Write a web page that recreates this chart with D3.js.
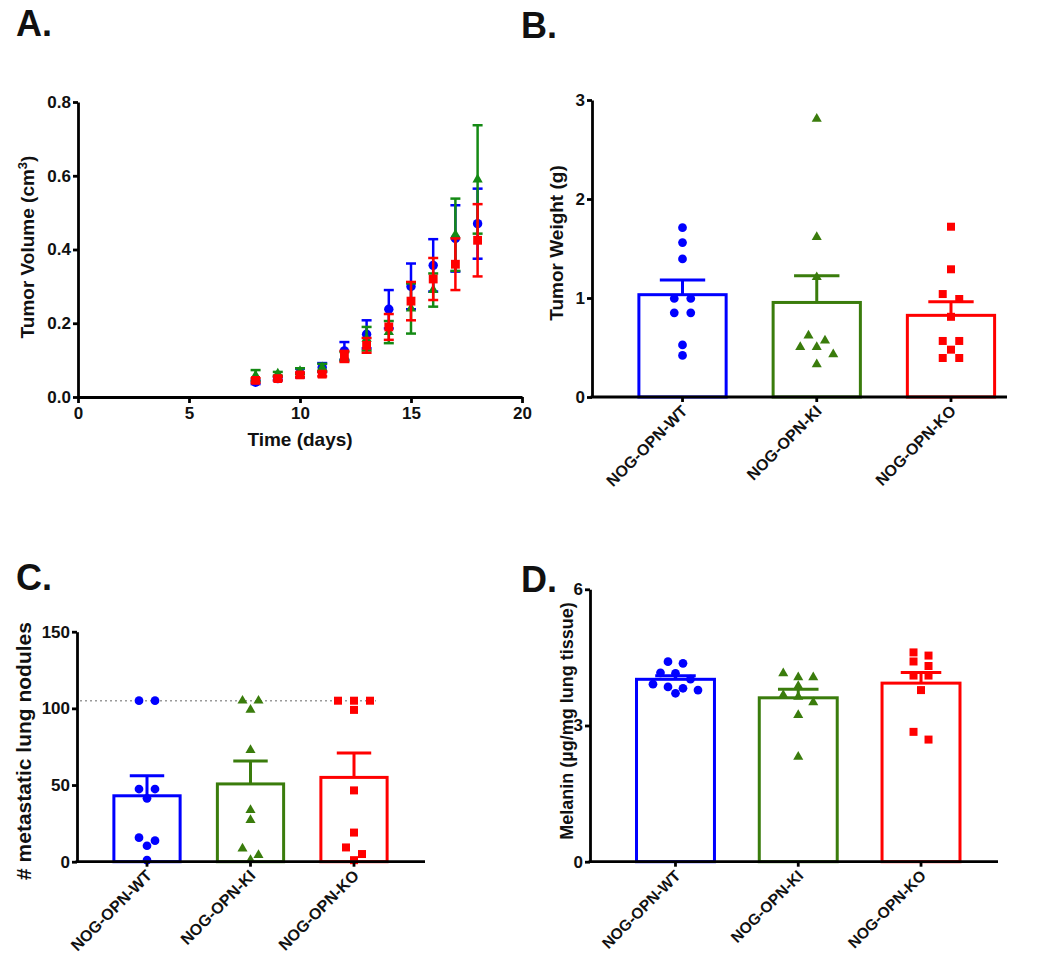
<!DOCTYPE html>
<html><head><meta charset="utf-8">
<script src="https://cdn.jsdelivr.net/npm/d3@7"></script>
<style>
body{margin:0;background:#fff}
text{font-family:"Liberation Sans",Arial,Helvetica,sans-serif;font-weight:bold;fill:#111}
</style>
</head><body>
<svg id="chart" width="1050" height="971"></svg>
<script>
// ---------- Panel A: tumor volume over time (mean ± SEM) ----------
const days = [8, 9, 10, 11, 12, 13, 14, 15, 16, 17, 18];
const wtMean = [0.040, 0.050, 0.065, 0.080, 0.125, 0.170, 0.238, 0.300, 0.357, 0.430, 0.470];
const wtSem  = [0.005, 0.005, 0.012, 0.012, 0.024, 0.038, 0.052, 0.062, 0.071, 0.090, 0.095];
const kiMean = [0.058, 0.063, 0.070, 0.080, 0.110, 0.158, 0.176, 0.240, 0.290, 0.440, 0.590];
const kiSem  = [0.015, 0.005, 0.008, 0.010, 0.012, 0.032, 0.030, 0.068, 0.045, 0.098, 0.147];
const koMean = [0.045, 0.050, 0.060, 0.062, 0.110, 0.140, 0.190, 0.260, 0.320, 0.360, 0.425];
const koSem  = [0.006, 0.005, 0.006, 0.006, 0.015, 0.020, 0.035, 0.052, 0.057, 0.070, 0.098];
const volTicks = [0, 0.2, 0.4, 0.6, 0.8];
const dayTicks = [0, 5, 10, 15, 20];

// ---------- Groups ----------
const groups = ["NOG-OPN-WT", "NOG-OPN-KI", "NOG-OPN-KO"];

// ---------- Panel B: tumor weight (g) ----------
const weightWT = [1.71, 1.56, 1.395, 0.995, 0.995, 0.85, 0.85, 0.526, 0.42];
const weightKI = [2.81, 1.615, 1.21, 0.62, 0.57, 0.505, 0.505, 0.43, 0.33];
const weightKO = [1.72, 1.29, 1.04, 0.99, 0.81, 0.566, 0.566, 0.478, 0.394, 0.394];
const weightTicks = [0, 1, 2, 3];

// ---------- Panel C: metastatic lung nodules ----------
const nodulesWT = [105, 105, 47.4, 47.4, 41.3, 15.7, 13.7, 10.4, 1];
const nodulesKI = [105, 105, 99, 72.8, 33.7, 27.2, 8.5, 4.3, 1];
const nodulesKO = [105, 105, 105, 99, 46.5, 19, 9.3, 5, 1];
const noduleTicks = [0, 50, 100, 150];
const noduleLimit = [105];

// ---------- Panel D: melanin ----------
const melaninWT = [4.405, 4.37, 4.16, 4.15, 4.02, 3.91, 3.85, 3.82, 3.78, 3.71];
const melaninKI = [4.15, 4.06, 4.06, 3.87, 3.67, 3.63, 3.51, 3.23, 2.31];
const melaninKO = [4.61, 4.54, 4.41, 4.31, 4.10, 4.10, 3.78, 2.86, 2.69];
const melaninTicks = [0, 3, 6];

// ---------- styles ----------
const BLUE = "#0000ff", RED = "#ff0000", GREEN_A = "#148a14", GREEN_B = "#3a7c0c";
const AXW = 2.8;
const svg = d3.select("#chart");

function styleAxis(g, fs) {
  g.select(".domain").attr("stroke", "#000").attr("stroke-width", AXW);
  g.selectAll(".tick line").attr("stroke", "#000").attr("stroke-width", AXW);
  g.selectAll(".tick text").attr("fill", "#111").style("font-size", fs + "px");
}

function panelLetter(txt, x, y) {
  svg.append("text").attr("x", x).attr("y", y).text(txt)
    .style("font-size", "36px").attr("fill", "#222");
}

function yTitle(x, y, fs, build) {
  const t = svg.append("text").attr("transform", `translate(${x},${y}) rotate(-90)`)
    .attr("text-anchor", "middle").style("font-size", fs + "px");
  build(t);
}

function marker(shape, size) {
  const type = shape === "circle" ? d3.symbolCircle : shape === "square" ? d3.symbolSquare : d3.symbolTriangle;
  return d3.symbol().type(type).size(size)();
}

// ================= Panel A =================
(function () {
  const x = d3.scaleLinear().domain([0, 20]).range([78, 522]);
  const y = d3.scaleLinear().domain([0, 0.8]).range([397, 102]);
  const gx = svg.append("g").attr("transform", `translate(0,${y(0)})`)
    .call(d3.axisBottom(x).tickValues(dayTicks).tickSize(6).tickSizeOuter(0).tickPadding(4).tickFormat(d3.format("d")));
  styleAxis(gx, 17);
  const gy = svg.append("g").attr("transform", `translate(${x(0)},0)`)
    .call(d3.axisLeft(y).tickValues(volTicks).tickSize(5).tickSizeOuter(0).tickPadding(2).tickFormat(d3.format(".1f")));
  styleAxis(gy, 17);

  const series = [
    { mean: wtMean, sem: wtSem, color: BLUE, shape: "circle", size: 70 },
    { mean: kiMean, sem: kiSem, color: GREEN_A, shape: "triangle", size: 46 },
    { mean: koMean, sem: koSem, color: RED, shape: "square", size: 78 }
  ];
  series.forEach(s => {
    const g = svg.append("g");
    days.forEach((d, i) => {
      const cx = x(d), y1 = y(s.mean[i] + s.sem[i]), y0 = y(s.mean[i] - s.sem[i]);
      g.append("line").attr("x1", cx).attr("x2", cx).attr("y1", y1).attr("y2", y0)
        .attr("stroke", s.color).attr("stroke-width", 2.5);
      [y1, y0].forEach(yy => g.append("line").attr("x1", cx - 5).attr("x2", cx + 5)
        .attr("y1", yy).attr("y2", yy).attr("stroke", s.color).attr("stroke-width", 2.5));
    });
    g.selectAll("path.m").data(days).join("path").attr("class", "m")
      .attr("d", marker(s.shape, s.size))
      .attr("transform", (d, i) => `translate(${x(d)},${y(s.mean[i])})`)
      .attr("fill", s.color);
  });

  svg.append("text").attr("x", 300).attr("y", 446).attr("text-anchor", "middle")
    .style("font-size", "19px").text("Time (days)");
  yTitle(34, 247, 19, t => {
    t.append("tspan").text("Tumor Volume (cm");
    t.append("tspan").attr("dy", -7).style("font-size", "13px").text("3");
    t.append("tspan").attr("dy", 7).text(")");
  });
  panelLetter("A.", 16, 36);
})();

// ================= Bar panels =================
function swarm(vals, y, spacing, thresh) {
  const pts = vals.map(v => ({ v, py: y(v) })).sort((a, b) => a.py - b.py);
  const rows = [];
  pts.forEach(p => {
    const r = rows[rows.length - 1];
    if (r && p.py - r[0].py < thresh) r.push(p); else rows.push([p]);
  });
  rows.forEach(r => r.forEach((p, i) => { p.dx = (i - (r.length - 1) / 2) * spacing; }));
  return pts;
}

function barPanel(o) {
  const y = d3.scaleLinear().domain(o.yDomain).range([o.y0, o.y1]);
  const x = d3.scaleBand().domain(groups).range(o.bandRange).paddingInner(o.pad).paddingOuter(o.pad / 2);
  const data = [o.wt, o.ki, o.ko];
  const colors = [BLUE, GREEN_B, RED];
  const shapes = ["circle", "triangle", "square"];
  const sizes = [60, 44, 64];

  if (o.refLine) {
    svg.append("line").attr("x1", o.axisX0 + 3).attr("x2", x(groups[2]) + x.bandwidth() / 2 + 22)
      .attr("y1", y(o.refLine[0])).attr("y2", y(o.refLine[0]))
      .attr("stroke", "#9a9a9a").attr("stroke-width", 1.6).attr("stroke-dasharray", "2,3");
  }

  groups.forEach((gname, gi) => {
    const vals = data[gi];
    const mean = d3.mean(vals);
    const sem = d3.deviation(vals) / Math.sqrt(vals.length);
    const bx = x(gname), bw = x.bandwidth(), cx = bx + bw / 2;
    const g = svg.append("g");
    g.append("rect").attr("x", bx).attr("y", y(mean)).attr("width", bw).attr("height", y(0) - y(mean))
      .attr("fill", "#fff").attr("stroke", colors[gi]).attr("stroke-width", 3);
    g.append("line").attr("x1", cx).attr("x2", cx).attr("y1", y(mean)).attr("y2", y(mean + sem))
      .attr("stroke", colors[gi]).attr("stroke-width", 3);
    const cw = bw * 0.52;
    g.append("line").attr("x1", cx - cw / 2).attr("x2", cx + cw / 2).attr("y1", y(mean + sem)).attr("y2", y(mean + sem))
      .attr("stroke", colors[gi]).attr("stroke-width", 3);
    const pts = swarm(vals, y, o.spacing, 8);
    g.selectAll("path.pt").data(pts).join("path").attr("class", "pt")
      .attr("d", marker(shapes[gi], sizes[gi]))
      .attr("transform", p => `translate(${cx + p.dx},${p.py})`)
      .attr("fill", colors[gi]);
  });

  // axes
  const gy = svg.append("g").attr("transform", `translate(${o.axisX0},0)`)
    .call(d3.axisLeft(y).tickValues(o.ticks).tickSize(5).tickSizeOuter(0).tickPadding(2).tickFormat(d3.format("d")));
  styleAxis(gy, o.tickFs);
  svg.append("line").attr("x1", o.axisX0 - 1.4).attr("x2", o.axisX1).attr("y1", y(0)).attr("y2", y(0))
    .attr("stroke", "#000").attr("stroke-width", AXW);
  const gx = svg.append("g").attr("transform", `translate(0,${y(0)})`)
    .call(d3.axisBottom(x).tickSize(5).tickSizeOuter(0));
  gx.select(".domain").remove();
  gx.selectAll(".tick line").attr("stroke", "#000").attr("stroke-width", AXW);
  gx.selectAll(".tick text").attr("fill", "#111").style("font-size", o.labelFs + "px")
    .attr("x", 0).attr("y", 0).attr("dy", 0).attr("text-anchor", "end")
    .attr("transform", `translate(${o.labelDx},${o.labelDy}) rotate(-45)`);

  yTitle(o.titleX, o.titleY, o.titleFs, t => t.text(o.title));
  panelLetter(o.letter, o.letterX, o.letterY);
}

barPanel({
  wt: weightWT, ki: weightKI, ko: weightKO, yDomain: [0, 3], y0: 397, y1: 100,
  bandRange: [615.4, 1018.1], pad: 0.35, axisX0: 592, axisX1: 1007, ticks: weightTicks,
  spacing: 16.5, tickFs: 17, labelFs: 16, labelDx: 6, labelDy: 15,
  title: "Tumor Weight (g)", titleX: 563, titleY: 243, titleFs: 19,
  letter: "B.", letterX: 521, letterY: 38
});

barPanel({
  wt: nodulesWT, ki: nodulesKI, ko: nodulesKO, yDomain: [0, 150], y0: 861.7, y1: 631.7,
  bandRange: [95.25, 405.75], pad: 0.36, axisX0: 77, axisX1: 425, ticks: noduleTicks,
  spacing: 16, tickFs: 17, labelFs: 16, labelDx: 6, labelDy: 15, refLine: noduleLimit,
  title: "# metastatic lung nodules", titleX: 31, titleY: 751, titleFs: 21,
  letter: "C.", letterX: 16, letterY: 590
});

barPanel({
  wt: melaninWT, ki: melaninKI, ko: melaninKO, yDomain: [0, 6], y0: 861.7, y1: 589.3,
  bandRange: [614.1, 982.4], pad: 0.365, axisX0: 590, axisX1: 998, ticks: melaninTicks,
  spacing: 15, tickFs: 17, labelFs: 15.5, labelDx: 6, labelDy: 15,
  title: "Melanin (µg/mg lung tissue)", titleX: 573, titleY: 721, titleFs: 18,
  letter: "D.", letterX: 521, letterY: 592
});
</script>
</body></html>
